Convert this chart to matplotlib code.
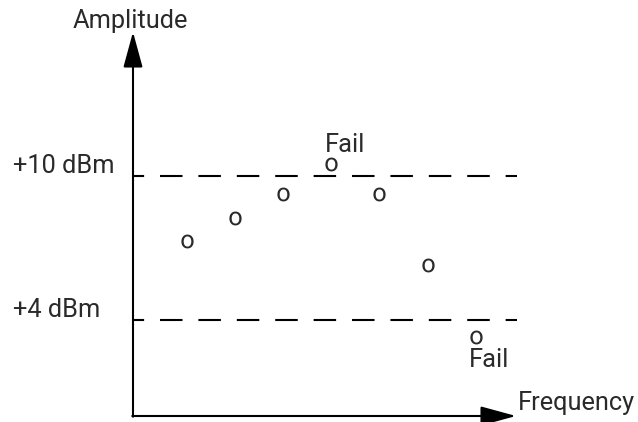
import matplotlib
matplotlib.use("Agg")
import matplotlib.pyplot as plt

# measurements (frequency index, amplitude in dBm)
freq = [1, 2, 3, 4, 5, 6, 7]
amplitude = [7.29, 8.27, 9.25, 10.5, 9.27, 6.29, 3.29]
limits = [10, 4]
limit_labels = ["+10 dBm", "+4 dBm"]
fail_idx = [3, 6]

plt.rcParams['font.family'] = ['Roboto', 'DejaVu Sans']
plt.rcParams['mathtext.fontset'] = 'custom'
plt.rcParams['mathtext.rm'] = 'Roboto'
plt.rcParams['lines.scale_dashes'] = False
ink = '#2a2a2a'

fig = plt.figure(figsize=(6.38, 4.22), dpi=100)
ax = fig.add_axes([0, 0, 1, 1])
ax.set_xlim(-2.888, 10.376)
ax.set_ylim(-0.25, 17.333)
ax.axis('off')

# pick a font size so "Amplitude" is about 115 px wide
fs = 10
probe = ax.text(0, 0, 'Amplitude', fontsize=fs)
fig.canvas.draw()
fs = fs * 115 / probe.get_window_extent().width
probe.remove()

x0, y0 = -0.123, 0.0
arrow = dict(arrowstyle='-|>,head_length=2.2,head_width=0.6', color='black',
             lw=1.5, shrinkA=0, shrinkB=0, mutation_scale=10)
ax.annotate('', xy=(x0, 16.0), xytext=(x0, y0 - 0.03), arrowprops=arrow)
ax.annotate('', xy=(7.84, y0), xytext=(x0 - 0.015, y0), arrowprops=arrow)

for lim, lab in zip(limits, limit_labels):
    ax.plot([x0, 7.86], [lim, lim], color='black', lw=1.5,
            linestyle=(8.2, (16.2, 11.45)))
    ax.text(-2.617, lim + 0.13, lab, ha='left', va='baseline', fontsize=fs,
            color=ink)

ax.plot(freq, amplitude, linestyle='none', marker=r'$\mathrm{o}$',
        markersize=10, markeredgewidth=0, color=ink)

f, a = freq[fail_idx[0]], amplitude[fail_idx[0]]
ax.text(f - 0.13, a + 0.5, 'Fail', ha='left', va='baseline', fontsize=fs, color=ink)
f, a = freq[fail_idx[1]], amplitude[fail_idx[1]]
ax.text(f - 0.14, a - 1.25, 'Fail', ha='left', va='baseline', fontsize=fs, color=ink)

ax.text(-0.175, 16.17, 'Amplitude', ha='center', va='baseline', fontsize=fs,
        color=ink)
ax.text(7.88, 0.25, 'Frequency', ha='left', va='baseline', fontsize=fs,
        color=ink)

fig.savefig('out.png', dpi=100)
